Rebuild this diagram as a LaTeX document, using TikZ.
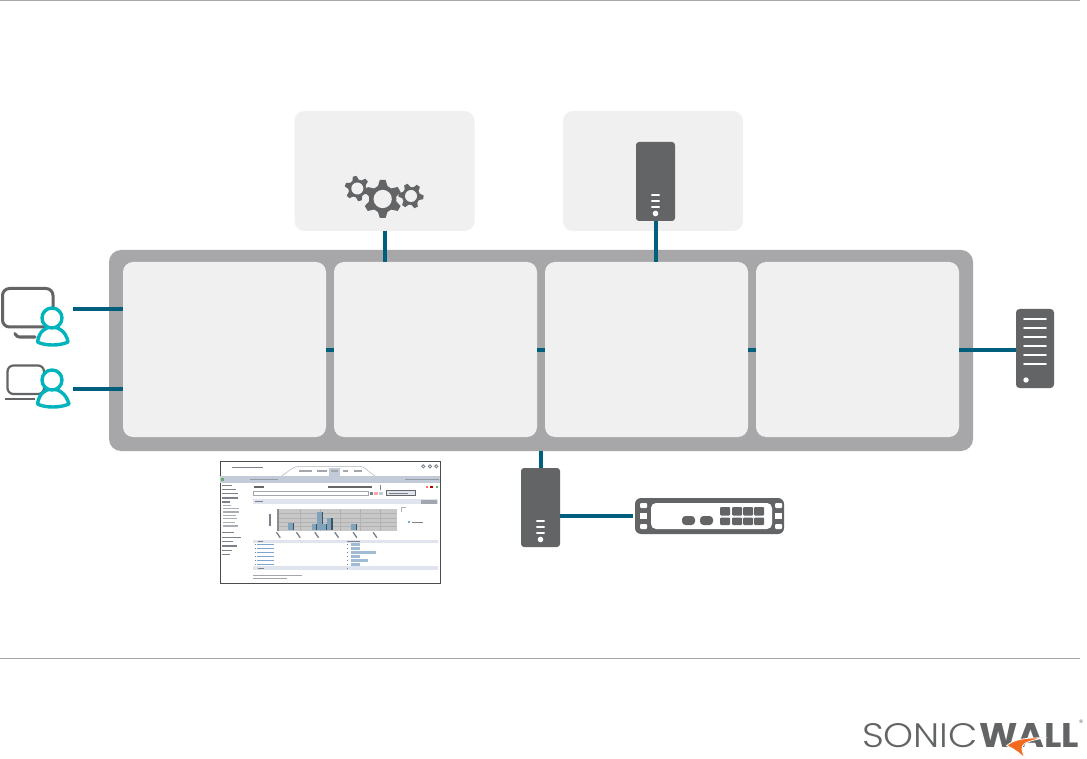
\documentclass[tikz,border=0pt]{standalone}
\usepackage{fontspec}
\setmainfont{Lato}
\newfontfamily\logolight{Poppins Light}
\newfontfamily\logobold{Poppins}
\definecolor{panelgrey}{HTML}{A7A7A9}
\definecolor{boxgrey}{HTML}{F0F0F0}
\definecolor{iconA}{HTML}{636466}
\definecolor{linkteal}{HTML}{005F7C}
\definecolor{userteal}{HTML}{00B4BE}
\definecolor{rulegrey}{HTML}{A9A9AB}
\definecolor{swoosh}{HTML}{F26A1F}
\definecolor{shotband}{HTML}{C4CBD8}
\definecolor{shotlight}{HTML}{DFE4EE}
\definecolor{shottext}{HTML}{7C818A}
\definecolor{shotlink}{HTML}{7FA5D0}
\definecolor{shotbar}{HTML}{A0BCD4}
\definecolor{shotcol}{HTML}{7FA3BC}
\tikzset{
  x=1pt,y=-1pt,
  outerpanel/.style={rectangle,rounded corners=12pt,fill=panelgrey,minimum width=864pt,minimum height=201pt,inner sep=0,outer sep=0},
  innerbox/.style={rectangle,rounded corners=10pt,fill=boxgrey,minimum width=203pt,minimum height=175pt,inner sep=0,outer sep=0},
  topbox/.style={rectangle,rounded corners=10pt,fill=boxgrey,minimum width=180pt,minimum height=120pt,inner sep=0,outer sep=0},
  slimserver/.style={rectangle,rounded corners=3pt,fill=iconA,minimum width=39pt,minimum height=79pt,inner sep=0,outer sep=0},
  bigserver/.style={rectangle,rounded corners=3.5pt,fill=iconA,minimum width=38pt,minimum height=79pt,inner sep=0,outer sep=0},
  switchbody/.style={rectangle,rounded corners=6pt,fill=iconA,minimum width=149pt,minimum height=36pt,inner sep=0,outer sep=0},
  shotframe/.style={rectangle,fill=white,draw=black!70,line width=.6pt,minimum width=220pt,minimum height=122pt,inner sep=0,outer sep=0},
  link/.style={draw=linkteal,line width=4pt},
  rulerline/.style={draw=rulegrey,line width=.8pt},
  slot/.style={draw=white,line width=1.7pt,line cap=round},
  usericon/.style={draw=userteal,line width=3.4pt,fill=white,line join=round},
  deviceline/.style={draw=iconA,line width=3pt,rounded corners=7pt},
  tbar/.style={fill=shottext},
  lbar/.style={fill=shotlight},
  pbar/.style={fill=shotbar},
  ubar/.style={fill=shotlink},
  cbar/.style={fill=shotcol},
  logotext/.style={inner sep=0,outer sep=0,text=iconA,anchor=north west}
}
% gear: centre x, y, outer radius, rotation
\newcommand{\gearicon}[4]{%
  \foreach \a in {0,60,...,300}{%
    \fill[iconA,rotate around={\a+#4:(#1,#2)}]
      ({#1-#3*0.27},{#2-#3*0.62}) -- ({#1-#3*0.15},{#2-#3}) -- ({#1+#3*0.15},{#2-#3}) -- ({#1+#3*0.27},{#2-#3*0.62}) -- cycle;
  }%
  \fill[iconA] (#1,#2) circle[radius=#3*0.72];
  \fill[boxgrey] (#1,#2) circle[radius=#3*0.48];
}
\begin{document}
\begin{tikzpicture}
\useasboundingbox (0,0) rectangle (1087,759);
\fill[white] (0,0) rectangle (1087,759);
\coordinate (ruleAa) at (0,0.4); \coordinate (ruleAb) at (1080,0.4);
\coordinate (ruleBa) at (0,658); \coordinate (ruleBb) at (1080,658);
\draw[rulerline] (ruleAa) -- (ruleAb);
\draw[rulerline] (ruleBa) -- (ruleBb);

% boxes
\node[outerpanel] (panel) at (541,350.5) {};
\node[innerbox] (boxa) at (224.5,349.5) {};
\node[innerbox] (boxb) at (435.5,349.5) {};
\node[innerbox] (boxc) at (646.5,349.5) {};
\node[innerbox] (boxd) at (857.5,349.5) {};
\node[topbox] (gearbox) at (384.5,171) {};
\node[topbox] (srvbox) at (653,171) {};

% devices
\node[slimserver] (topsrv) at (655.5,181.5) {};
\node[slimserver] (midsrv) at (540.5,507.5) {};
\node[bigserver] (rightsrv) at (1035,348.5) {};
\node[switchbody] (switch) at (709.5,516) {};
\coordinate (usera) at (73,309);
\coordinate (userb) at (73,389);

% connectors
\draw[link] (usera) -- (usera -| boxa.west);
\draw[link] (userb) -- (userb -| boxa.west);
\draw[link] (boxa.east) -- (boxb.west);
\draw[link] (boxb.east) -- (boxc.west);
\draw[link] (boxc.east) -- (boxd.west);
\draw[link] (boxd.east) -- (boxd.east -| rightsrv.west);
\draw[link] (gearbox.south) -- (gearbox.south |- boxb.north);
\draw[link] (topsrv.south) -- (topsrv.south |- boxc.north);
\draw[link] (midsrv.north) -- (midsrv.north |- panel.south);
\coordinate (swleft) at (633,516);
\draw[link] (midsrv.east |- swleft) -- (swleft);

% gears
\gearicon{382.7}{199}{19}{0}
\gearicon{357.3}{188.5}{12.5}{12}
\gearicon{411}{196}{12.5}{24}

% server details
\foreach \sx/\sy in {655.5/195,540.5/521}{
  \foreach \d in {0,6,12}{\draw[slot] (\sx-3.6,\sy+\d) -- (\sx+3.6,\sy+\d);}
  \fill[white] (\sx,\sy+18.5) circle[radius=2.8];
}
\foreach \d in {0,9,...,45}{\draw[slot] (1024,319+\d) -- (1046,319+\d);}
\fill[white] (1026,380) circle[radius=2.7];

% switch details
\fill[white,rounded corners=5pt] (651,503) rectangle (772,529);
\foreach \sx/\sw in {640/7,775/7}{
  \fill[white,rounded corners=1pt] (\sx,503) rectangle (\sx+\sw,508);
  \fill[white] (\sx,513) rectangle (\sx+\sw,519);
  \fill[white,rounded corners=1pt] (\sx,524) rectangle (\sx+\sw,529);
}
\fill[iconA,rounded corners=3.5pt] (682,516) rectangle (695,525);
\fill[iconA,rounded corners=3.5pt] (700,516) rectangle (713,525);
\foreach \cx in {720,732,743,754}{
  \fill[iconA,rounded corners=1pt] (\cx,507) rectangle (\cx+10,515.5);
  \fill[iconA,rounded corners=1pt] (\cx,517.5) rectangle (\cx+10,525);
}

% users
\draw[deviceline] (2.5,288.5) rectangle (53,327);
\draw[iconA,line width=3pt,line cap=round,rounded corners=3pt] (15,333.5) -- (16.5,337) -- (35,337);
\draw[usericon] (37.5,342) .. controls (39,331) and (46,327) .. (52,327) .. controls (58,327) and (66,331) .. (68,342) .. controls (60,346) and (45,346) .. cycle;
\draw[usericon] (52,318) circle[radius=10];
\draw[draw=iconA,line width=2.2pt,rounded corners=6pt] (7.5,365.5) rectangle (44,394);
\draw[iconA,line width=2pt] (4.5,398.5) -- (35,398.5);
\draw[usericon] (37.5,404) .. controls (39,393) and (46,389) .. (52,389) .. controls (58,389) and (66,393) .. (69,404) .. controls (60,408) and (45,408) .. cycle;
\draw[usericon] (52,380) circle[radius=10];

% screenshot
\node[shotframe] (shot) at (330,522.5) {};
\begin{scope}[shift={(215,455)},scale=1/3]
  \fill[tbar] (50,35) rectangle (145,39);
  \draw[shottext!60,line width=.5pt] (200,62) .. controls (225,50) and (225,34) .. (260,34) -- (430,34) .. controls (455,34) and (455,50) .. (480,62);
  \fill[shotband] (342,38) rectangle (375,63);
  \foreach \ax/\bx in {252/290,306/335,347/370,384/398,416/442}{\fill[shottext!70] (\ax,45) rectangle (\bx,50);}
  \foreach \ax in {625,645,664}{\draw[shottext,line width=.8pt,fill=shotlight] (\ax,34) circle[radius=5];}
  \fill[shotband] (16,63) rectangle (674,85);
  \fill[green!45!black!60] (18,68) rectangle (27,79);
  \fill[shottext!80] (105,71) rectangle (188,75);
  \fill[shottext!80] (570,71) rectangle (672,75);
  \foreach \ty/\tw in {90/32,102/42,114/50,127/50,139/24,231/36,245/58,258/34,271/46,284/30,297/24}{\fill[tbar] (20,\ty) rectangle (20+\tw,\ty+4);}
  \foreach \ty/\tw in {149/24,159/48,169/48,180/40,189/42,200/36,211/44}{\fill[shottext!65] (24,\ty) rectangle (24+\tw,\ty+3.5);}
  \fill[black!60] (118,94) rectangle (146,98);
  \fill[black!60] (340,94) rectangle (470,98);
  \fill[shottext] (496,91) rectangle (498,104);
  \fill[red!60] (632,92) rectangle (640,99);
  \fill[red!70!black] (645,92) rectangle (653,99);
  \fill[green!50!black!60] (662,92) rectangle (670,99);
  \draw[shottext!70,line width=.4pt] (115,108) rectangle (460,122);
  \fill[shottext] (465,110) rectangle (474,120);
  \fill[red!35] (478,110) rectangle (489,120);
  \fill[shotband] (493,110) rectangle (505,120);
  \draw[black!60,line width=.5pt,fill=shotlight] (515,107) rectangle (600,122);
  \fill[shottext] (522,113) rectangle (580,117);
  \fill[shotlight] (115,132) rectangle (668,148);
  \fill[tbar] (120,138) rectangle (145,142);
  \fill[shottext!70] (618,134) rectangle (665,146);
  % chart
  \fill[black!22] (185,162) rectangle (545,228);
  \fill[black!45] (185,162) rectangle (192,228);
  \foreach \gy in {175,188,201,214}{\draw[white!70!black,line width=.3pt] (192,\gy) -- (545,\gy);}
  \foreach \gx in {255,315,375,435,495}{\draw[white!70!black,line width=.3pt] (\gx,162) -- (\gx,228);}
  \foreach \ax/\bx/\ty in {220/238/205,292/306/207,305/325/171,320/336/207,335/353/188,408/426/206}{
    \fill[cbar] (\ax,\ty) rectangle (\bx,226);
    \fill[black!50!shotcol] (\bx-4,\ty) rectangle (\bx,226);
  }
  \fill[shottext] (162,178) rectangle (167,214);
  \foreach \lx in {190,250,305,365,420,480}{\fill[shottext,rotate around={-55:(\lx,240)}] (\lx-10,238) rectangle (\lx+10,242);}
  \fill[shottext!60] (558,156) rectangle (572,159);
  \fill[shottext!60] (558,156) rectangle (560,172);
  \fill[shotlink] (580,199) rectangle (586,205);
  \fill[tbar] (592,200) rectangle (625,204);
  % table
  \fill[shotlight] (115,254) rectangle (668,264);
  \fill[tbar] (130,257) rectangle (145,261);
  \fill[tbar] (396,257) rectangle (435,261);
  \foreach \ty/\tw in {268/27,280/27,292/75,304/27,316/51,328/27}{
    \fill[ubar] (127,\ty-2) rectangle (177,\ty+2);
    \fill[shottext] (119,\ty-2) rectangle (123,\ty+2);
    \fill[shottext] (397,\ty-2) rectangle (400,\ty+2);
    \fill[pbar] (408,\ty-4) rectangle (408+\tw,\ty+4);
  }
  \fill[shotlight] (115,334) rectangle (668,346);
  \fill[tbar] (130,338) rectangle (148,342);
  \fill[tbar] (397,338) rectangle (400,342);
  \fill[shottext!70] (115,360) rectangle (260,363);
  \fill[shottext!70] (115,368) rectangle (215,371);
\end{scope}

% logo
\node[logotext] (logosonic) at (862,723) {\resizebox{116pt}{24pt}{\logolight SONIC}};
\node[logotext] (logowall) at (979,723) {\resizebox{100pt}{24pt}{\logobold\bfseries WALL}};
\node[inner sep=0,anchor=north west,text=iconA,font=\fontsize{5}{5}\selectfont] (logoreg) at (1079,720) {®};
\begin{scope}[shift={(850,700)},scale=1/3]
  \fill[swoosh,draw=white,line width=.8pt] (582,114) .. controls (530,112) and (490,118) .. (470,137) .. controls (490,145) and (510,160) .. (527,177) .. controls (515,155) and (510,140) .. (525,130) .. controls (540,122) and (560,118) .. (582,114) -- cycle;
\end{scope}
\end{tikzpicture}
\end{document}
